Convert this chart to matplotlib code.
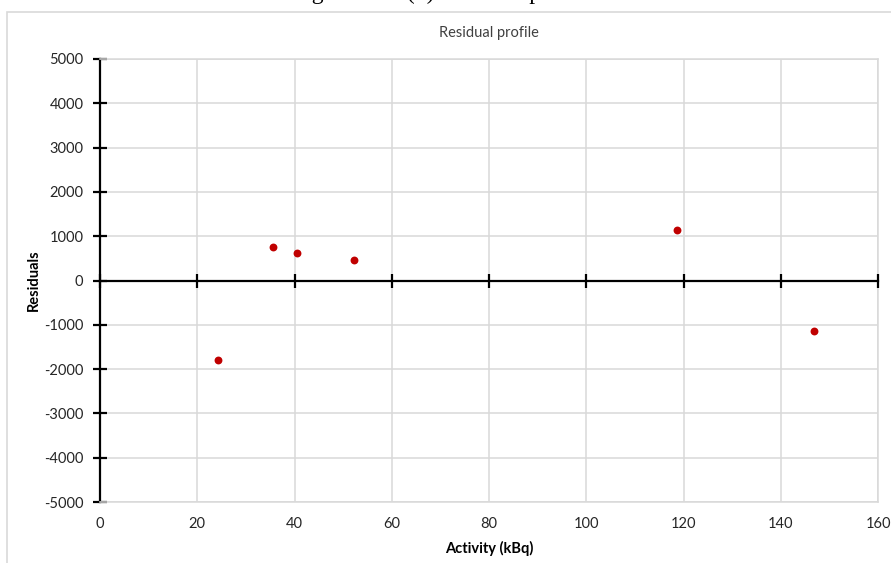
import matplotlib.pyplot as plt
from matplotlib.patches import Rectangle

# residual data
activity = [24.2, 35.5, 40.5, 52.3, 118.6, 146.8]
residuals = [-1800, 745, 615, 460, 1150, -1135]

x_ticks = [0, 20, 40, 60, 80, 100, 120, 140, 160]
y_ticks = [-5000, -4000, -3000, -2000, -1000, 0, 1000, 2000, 3000, 4000, 5000]

W, H = 891, 563
plt.rcParams["font.family"] = ["Lato", "DejaVu Sans"]
plt.rcParams["axes.unicode_minus"] = False
fig = plt.figure(figsize=(W / 100, H / 100), dpi=100)

# chart-area frame (excel style), runs off the right and bottom edge
fig.patches.append(Rectangle((7 / W, -0.05), 1.2, 1 - 12 / H + 0.05,
                             transform=fig.transFigure, fill=False,
                             edgecolor="#d9d9d9", linewidth=1.2))

# caption of the source document, cut off by the top edge
fig.text(292 / W, 1 + 0.5 / H, "Figure 4.10 (b) Residual plot", family="Liberation Serif",
         fontsize=17, ha="left", va="baseline", color="black")

ax = fig.add_axes([100 / W, 1 - 502 / H, 778 / W, 443 / H])
ax.scatter(activity, residuals, s=32, color="#c00000", zorder=5, linewidths=0)

ax.set_xlim(0, 160)
ax.set_ylim(-5000, 5000)
ax.set_xticks(x_ticks)
ax.set_yticks(y_ticks)
ax.grid(True, color="#d9d9d9", linewidth=1.1)
ax.set_axisbelow(True)

for side in ("top", "right", "bottom"):
    ax.spines[side].set_color("#d9d9d9")
    ax.spines[side].set_linewidth(1.1)
ax.spines["left"].set_color("black")
ax.spines["left"].set_linewidth(1.6)

ax.tick_params(axis="x", length=0, pad=11, labelsize=10.5, labelcolor="#262626")
ax.tick_params(axis="y", direction="inout", length=10, width=1.6, pad=7,
               labelsize=10.5, labelcolor="#262626", color="black")

# zero line with cross ticks
zero_ax = ax.secondary_xaxis(0, transform=ax.transData)
zero_ax.set_zorder(4)
zero_ax.spines["bottom"].set_color("black")
zero_ax.spines["bottom"].set_linewidth(1.6)
zero_ax.set_xticks(x_ticks)
zero_ax.tick_params(direction="inout", length=10, width=1.6, color="black",
                    labelbottom=False)

ax.set_title("Residual profile", fontsize=10.5, color="#404040", pad=16)
ax.set_xlabel("Activity (kBq)", fontsize=10.5, fontweight="bold", labelpad=7)
ax.set_ylabel("Residuals", fontsize=10.5, fontweight="bold", labelpad=2)

fig.savefig("out.png", dpi=100)
